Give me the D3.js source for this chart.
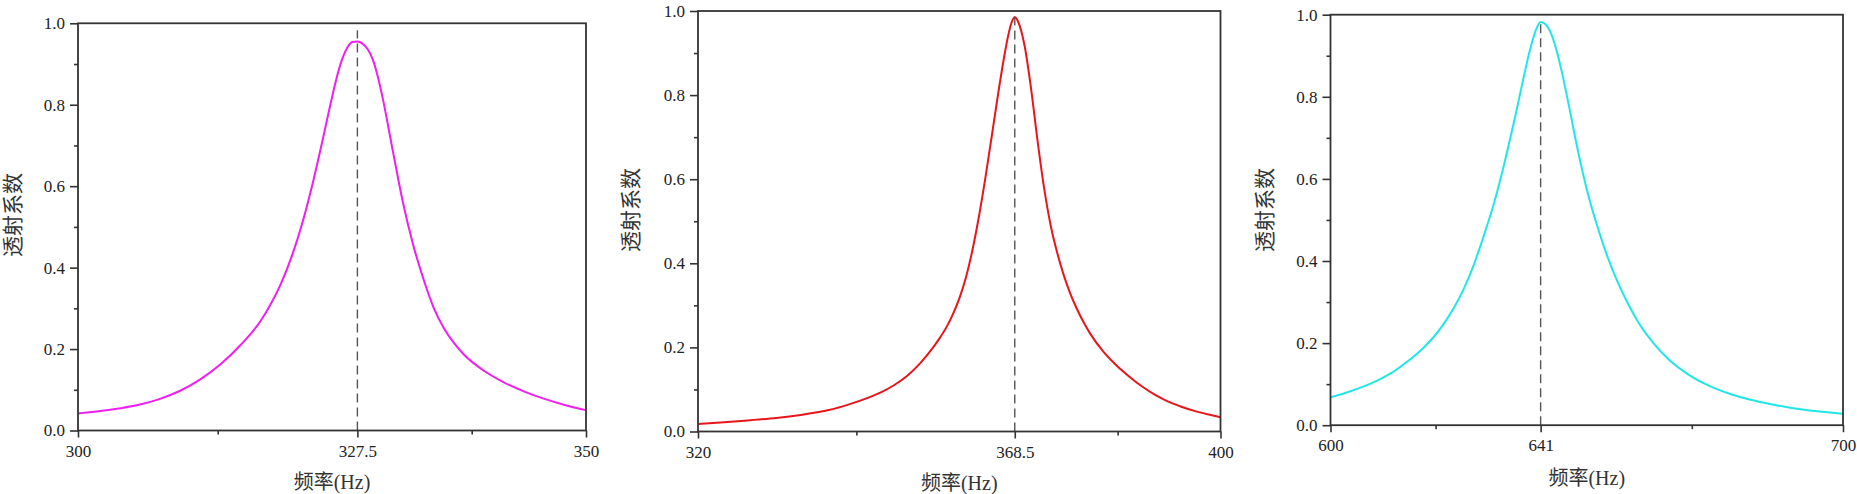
<!DOCTYPE html>
<html>
<head>
<meta charset="utf-8">
<script src="https://cdn.jsdelivr.net/npm/d3@7"></script>
<style>
  html, body { margin: 0; padding: 0; background: #fff; }
  svg { display: block; }
</style>
</head>
<body>
<svg id="chart" width="1857" height="494"></svg>
<script>
// ---------------- DATA ----------------
const xLabel = "频率(Hz)";
const yLabel = "透射系数";
const yTicks = [0, 0.2, 0.4, 0.6, 0.8, 1.0];
const yMinorTicks = [0.1, 0.3, 0.5, 0.7, 0.9];

// Panel 1 (magenta)
const freq1 = [300, 302, 304, 306, 308, 310, 312, 314, 316, 318, 319, 320, 321, 322, 323, 324, 325, 325.5, 326, 326.5, 327, 327.5, 328, 328.5, 329, 329.5, 330, 331, 332, 333, 334, 335, 336, 337, 338, 340, 342, 344, 346, 348, 350];
const trans1 = [0.042, 0.047, 0.054, 0.063, 0.077, 0.097, 0.125, 0.162, 0.210, 0.270, 0.312, 0.362, 0.425, 0.503, 0.597, 0.705, 0.818, 0.870, 0.912, 0.940, 0.954, 0.955, 0.950, 0.937, 0.912, 0.870, 0.815, 0.685, 0.558, 0.455, 0.372, 0.302, 0.252, 0.215, 0.186, 0.146, 0.117, 0.095, 0.077, 0.062, 0.050];
const xTicks1 = [300, 327.5, 350];
const xTickLabels1 = ["300", "327.5", "350"];
const peak1 = 327.5, peakLineTop1 = 0.983;

// Panel 2 (red)
const freq2 = [320, 324, 328, 332, 336, 340, 343, 346, 348, 350, 352, 354, 356, 357, 358, 359, 360, 361, 362, 363, 364, 365, 366, 367, 367.5, 368, 368.5, 369, 369.5, 370, 371, 372, 373, 374, 375, 376, 377, 378, 379, 380, 382, 384, 386, 388, 390, 392, 394, 396, 398, 400];
const trans2 = [0.018, 0.022, 0.027, 0.032, 0.040, 0.051, 0.064, 0.080, 0.093, 0.110, 0.132, 0.162, 0.200, 0.222, 0.247, 0.278, 0.316, 0.365, 0.430, 0.510, 0.603, 0.705, 0.808, 0.902, 0.942, 0.972, 0.986, 0.975, 0.952, 0.918, 0.815, 0.690, 0.578, 0.490, 0.425, 0.372, 0.328, 0.292, 0.261, 0.234, 0.191, 0.158, 0.131, 0.107, 0.087, 0.071, 0.059, 0.049, 0.041, 0.034];
const xTicks2 = [320, 368.5, 400];
const xTickLabels2 = ["320", "368.5", "400"];
const peak2 = 368.5, peakLineTop2 = 0.985;

// Panel 3 (cyan)
const freq3 = [600, 603, 606, 609, 612, 615, 618, 620, 622, 624, 626, 628, 630, 632, 634, 636, 638, 639, 640, 641, 642, 643, 644, 645, 646, 647, 648, 650, 652, 654, 656, 658, 660, 663, 666, 670, 674, 678, 682, 686, 690, 695, 700];
const trans3 = [0.068, 0.079, 0.092, 0.108, 0.128, 0.155, 0.187, 0.213, 0.245, 0.284, 0.332, 0.392, 0.465, 0.545, 0.642, 0.750, 0.865, 0.918, 0.960, 0.982, 0.976, 0.955, 0.918, 0.868, 0.810, 0.748, 0.685, 0.575, 0.487, 0.412, 0.350, 0.297, 0.252, 0.200, 0.160, 0.122, 0.095, 0.076, 0.062, 0.051, 0.042, 0.034, 0.028];
const xTicks3 = [600, 641, 700];
const xTickLabels3 = ["600", "641", "700"];
const peak3 = 641, peakLineTop3 = 0.982;

// ---------------- LAYOUT / STYLE ----------------
const panels = [
  { freq: freq1, trans: trans1, ticks: xTicks1, labels: xTickLabels1, peak: peak1, peakTop: peakLineTop1,
    color: "#f01ef0", left: 78, right: 586, top: 23.3, bottom: 430.5, xLabY: 489, yLabX: 13, yLabY: 215 },
  { freq: freq2, trans: trans2, ticks: xTicks2, labels: xTickLabels2, peak: peak2, peakTop: peakLineTop2,
    color: "#e8161c", left: 698, right: 1220.5, top: 11, bottom: 431.5, xLabY: 490, yLabX: 631, yLabY: 210 },
  { freq: freq3, trans: trans3, ticks: xTicks3, labels: xTickLabels3, peak: peak3, peakTop: peakLineTop3,
    color: "#22e6e6", left: 1330.5, right: 1843, top: 14.7, bottom: 425.2, xLabY: 485, yLabX: 1265, yLabY: 210 }
];

const axisColor = "#333";
const textColor = "#222";
const numFont = '"Liberation Serif", "Times New Roman", serif';
const cjkFont = '"Liberation Serif", "Noto Sans CJK SC", serif';

const svg = d3.select("#chart");

panels.forEach(p => {
  const x = d3.scaleLinear().domain([p.ticks[0], p.ticks[p.ticks.length - 1]]).range([p.left, p.right]);
  const y = d3.scaleLinear().domain([0, 1]).range([p.bottom, p.top]);
  const xMinor = d3.pairs(p.ticks).map(([a, b]) => (a + b) / 2);

  const g = svg.append("g");

  const pts = p.freq.map((f, i) => [f, p.trans[i]]);
  g.append("path")
    .datum(pts)
    .attr("fill", "none")
    .attr("stroke", p.color)
    .attr("stroke-width", 2)
    .attr("stroke-linejoin", "round")
    .attr("d", d3.line().x(d => x(d[0])).y(d => y(d[1])).curve(d3.curveMonotoneX));

  g.append("line")
    .attr("x1", x(p.peak)).attr("x2", x(p.peak))
    .attr("y1", y(0)).attr("y2", y(p.peakTop))
    .attr("stroke", "#555")
    .attr("stroke-width", 1.4)
    .attr("stroke-dasharray", "9,5");

  g.append("rect")
    .attr("x", p.left).attr("y", p.top)
    .attr("width", p.right - p.left).attr("height", p.bottom - p.top)
    .attr("fill", "none").attr("stroke", axisColor).attr("stroke-width", 1.8);

  const ya = g.append("g").attr("transform", `translate(${p.left},0)`)
    .call(d3.axisLeft(y).tickValues(yTicks).tickSize(8).tickPadding(5).tickFormat(d3.format(".1f")));
  const ym = g.append("g").attr("transform", `translate(${p.left},0)`)
    .call(d3.axisLeft(y).tickValues(yMinorTicks).tickSize(4).tickFormat(""));
  const xa = g.append("g").attr("transform", `translate(0,${p.bottom})`)
    .call(d3.axisBottom(x).tickValues(p.ticks).tickSize(7).tickPadding(7).tickFormat((d, i) => p.labels[i]));
  const xm = g.append("g").attr("transform", `translate(0,${p.bottom})`)
    .call(d3.axisBottom(x).tickValues(xMinor).tickSize(4).tickFormat(""));

  [ya, ym, xa, xm].forEach(a => {
    a.attr("font-family", numFont).attr("font-size", 17);
    a.select(".domain").remove();
    a.selectAll(".tick line").attr("stroke", axisColor).attr("stroke-width", 1.6);
    a.selectAll(".tick text")
      .attr("fill", textColor)
      .style("font-family", numFont)
      .style("font-size", "17px");
  });

  g.append("text")
    .attr("x", (p.left + p.right) / 2)
    .attr("y", p.xLabY)
    .attr("text-anchor", "middle")
    .attr("fill", "#333")
    .style("font-family", cjkFont)
    .style("font-size", "20px")
    .text(xLabel);

  g.append("text")
    .attr("transform", `translate(${p.yLabX},${p.yLabY}) rotate(-90)`)
    .attr("text-anchor", "middle")
    .attr("dominant-baseline", "central")
    .attr("fill", "#333")
    .style("font-family", cjkFont)
    .style("font-size", "21px")
    .text(yLabel);
});
</script>
</body>
</html>
